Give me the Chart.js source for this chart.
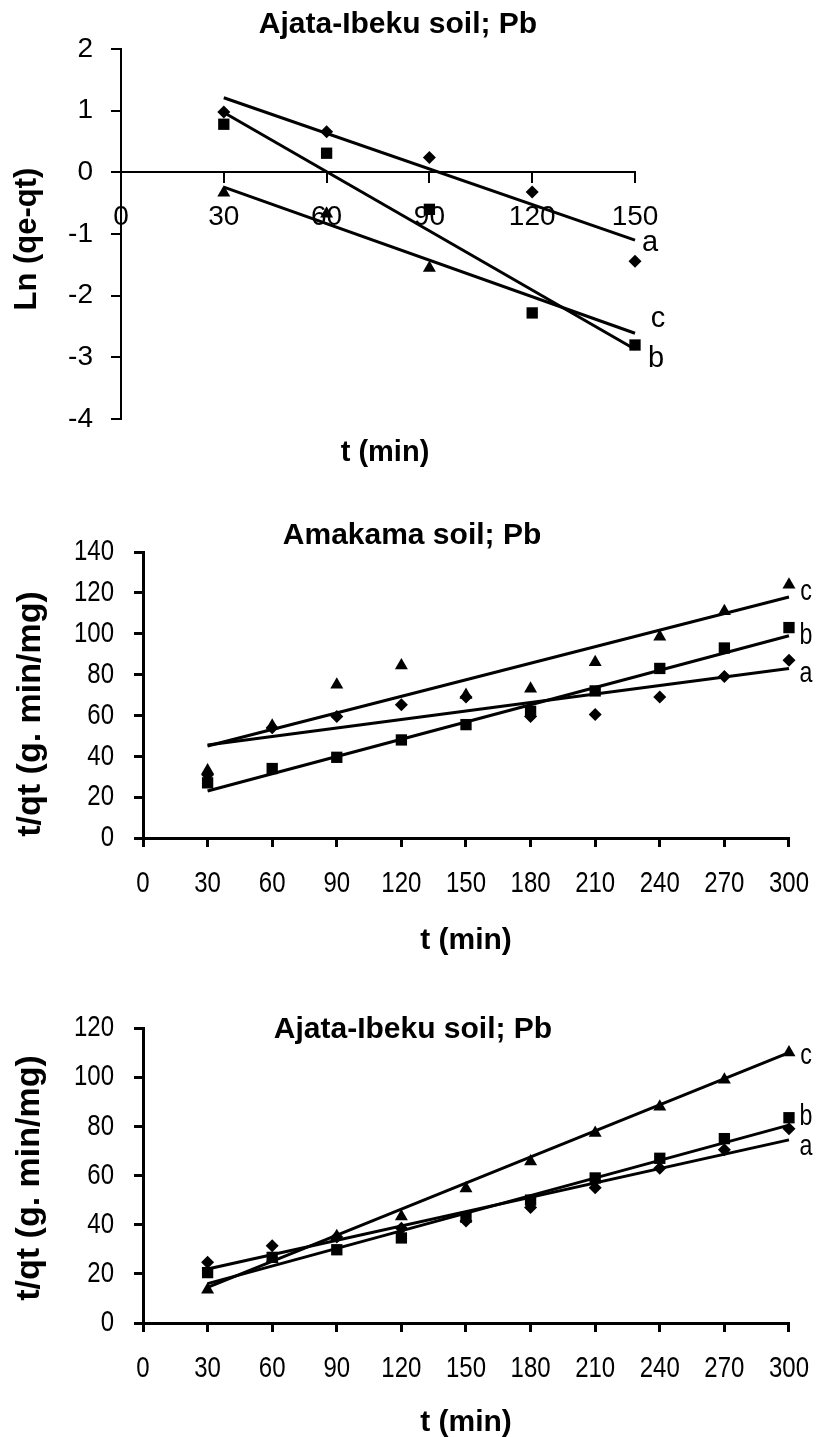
<!DOCTYPE html>
<html><head><meta charset="utf-8">
<script src="https://cdn.jsdelivr.net/npm/chart.js@4.4.1/dist/chart.umd.min.js"></script>
<style>
html,body{margin:0;padding:0;background:#fff;}
#wrap{position:relative;width:833px;height:1437px;overflow:hidden;}
canvas{position:absolute;left:0;}
</style></head><body>
<div id="wrap">
<canvas id="c1" width="833" height="480" style="top:0px"></canvas>
<canvas id="c2" width="833" height="470" style="top:500px"></canvas>
<canvas id="c3" width="833" height="447" style="top:990px"></canvas>
</div>
<script>
// ---------- data: top chart (Ajata-Ibeku soil; Pb, Ln(qe-qt)) ----------
const topTimes = [30, 60, 90, 120, 150];
const topA = [0.98, 0.66, 0.24, -0.32, -1.44];
const topB = [0.78, 0.31, -0.60, -2.28, -2.80];
const topCTimes = [30, 60, 90];
const topC = [-0.33, -0.67, -1.55];
const topFitX = [30, 150];
const topFitA = [1.21, -1.10];
const topFitB = [0.97, -2.87];
const topFitC = [-0.24, -2.61];
const topYTicks = [2, 1, 0, -1, -2, -3, -4];
const topXTicks = [0, 30, 60, 90, 120, 150];

// ---------- data: middle chart (Amakama soil; Pb, t/qt) ----------
const times = [30, 60, 90, 120, 150, 180, 210, 240, 270, 300];
const amaA = [31, 54, 59.5, 65.2, 69, 59.5, 60.5, 69, 79, 87];
const amaB = [27, 34, 39.5, 48, 55.5, 62, 72, 83, 93, 103];
const amaC = [33, 55, 75, 84.5, 70, 73, 86, 98.5, 111, 124];
const fitX = [30, 300];
const amaFitA = [45.5, 83];
const amaFitB = [23, 99];
const amaFitC = [45, 118];
const amaYTicks = [0, 20, 40, 60, 80, 100, 120, 140];

// ---------- data: bottom chart (Ajata-Ibeku soil; Pb, t/qt) ----------
const ajA = [24.7, 31.4, 35, 38.5, 41.5, 47, 55, 63, 70.5, 79];
const ajB = [20.5, 26.7, 29.8, 34.6, 43, 50, 59, 67, 75, 83.5];
const ajC = [13.5, 26, 35.3, 43.3, 54.7, 65.7, 77.3, 88, 99, 110];
const ajFitA = [22, 74.5];
const ajFitB = [16, 80.5];
const ajFitC = [14.5, 110];
const ajYTicks = [0, 20, 40, 60, 80, 100, 120];
const timeTicks = [0, 30, 60, 90, 120, 150, 180, 210, 240, 270, 300];

const seriesNames = ['a', 'b', 'c'];

// ---------- helpers ----------
const FONT = "'Liberation Sans', Arial, sans-serif";
const pts = (xs, ys) => xs.map((x, i) => ({x: x, y: ys[i]}));

function pointSet(xs, ys, style, r) {
  return {data: pts(xs, ys), showLine: false, pointStyle: style, pointRadius: r,
    pointBackgroundColor: '#000', pointBorderColor: '#000', pointBorderWidth: 0, clip: false};
}
function fitSet(xs, ys, w) {
  return {data: pts(xs, ys), showLine: true, pointRadius: 0, borderColor: '#000',
    borderWidth: w, fill: false, clip: false};
}
function fixedTicks(list) {
  return function (s) { s.ticks = list.map(v => ({value: v})); };
}
// draw the axis tick labels horizontally condensed (narrow font look)
function condense(s, factor) {
  if (s._condensed) return;
  s._condensed = true;
  const proto = Object.getPrototypeOf(s);
  s.drawLabels = function (area) {
    const ctx = this.ctx;
    const origRotate = ctx.rotate;
    ctx.rotate = function (a) { origRotate.call(this, a); this.scale(factor, 1); };
    try { proto.drawLabels.call(this, area); } finally { ctx.rotate = origRotate; }
  };
}

function makeOverlay(items) {
  return {
    id: 'overlay',
    afterDraw(chart) {
      const ctx = chart.ctx;
      items.forEach(it => {
        ctx.save();
        ctx.fillStyle = '#000';
        ctx.textBaseline = 'middle';
        ctx.font = it.font;
        ctx.textAlign = 'center';
        let x = it.x, y = it.y;
        if (it.at) {
          x = chart.scales.x.getPixelForValue(it.at[0]) + it.dx;
          y = chart.scales.y.getPixelForValue(it.at[1]) + it.dy;
        }
        ctx.translate(x, y);
        if (it.rot) ctx.rotate(it.rot);
        if (it.sx) ctx.scale(it.sx, 1);
        ctx.fillText(it.text, 0, 0);
        ctx.restore();
      });
    }
  };
}

const basePlugins = {legend: {display: false}, tooltip: {enabled: false}, title: {display: false}};

// ---------- chart 1 ----------
new Chart(document.getElementById('c1'), {
  type: 'scatter',
  data: {datasets: [
    pointSet(topTimes, topA, 'rectRot', 6.5),
    pointSet(topTimes, topB, 'rect', 8),
    pointSet(topCTimes, topC, 'triangle', 7.5),
    fitSet(topFitX, topFitA, 3),
    fitSet(topFitX, topFitB, 3),
    fitSet(topFitX, topFitC, 3)
  ]},
  options: {
    responsive: false, animation: false, devicePixelRatio: 1,
    layout: {padding: {left: 0, right: 198, top: 49, bottom: 0}},
    plugins: basePlugins,
    scales: {
      x: {type: 'linear', min: 0, max: 150, position: {y: 0},
        afterBuildTicks: fixedTicks(topXTicks),
        afterFit: s => { s.height = 0; },
        border: {display: true, color: '#000', width: 2},
        grid: {drawOnChartArea: false, drawTicks: true, tickLength: 10, color: '#000', lineWidth: 2},
        ticks: {color: '#000', padding: 18, maxRotation: 0, autoSkip: false, font: {family: FONT, size: 28}}
      },
      x2: {type: 'linear', position: 'bottom', min: 0, max: 1,
        afterFit: s => { s.height = 61; },
        border: {display: false}, grid: {display: false}, ticks: {display: false},
        title: {display: false}
      },
      y: {type: 'linear', min: -4, max: 2, position: 'left',
        afterBuildTicks: fixedTicks(topYTicks),
        afterFit: s => { s.width = 121; },
        border: {display: true, color: '#000', width: 2},
        grid: {drawOnChartArea: false, drawTicks: true, tickLength: 10, color: '#000', lineWidth: 2},
        ticks: {color: '#000', padding: 18, font: {family: FONT, size: 28}}
      }
    }
  },
  plugins: [makeOverlay([
    {text: 'Ajata-Ibeku soil; Pb', x: 398, y: 25, font: 'bold 30px ' + FONT},
    {text: 'Ln (qe-qt)', x: 27, y: 239, rot: -Math.PI / 2, font: 'bold 31px ' + FONT},
    {text: 't (min)', x: 385, y: 453, font: 'bold 29px ' + FONT},
    {text: seriesNames[0], at: [topFitX[1], topFitA[1]], dx: 15, dy: 3, font: '29px ' + FONT},
    {text: seriesNames[2], at: [topFitX[1], topFitC[1]], dx: 23, dy: -14, font: '29px ' + FONT},
    {text: seriesNames[1], at: [topFitX[1], topFitB[1]], dx: 21, dy: 10, font: '29px ' + FONT}
  ])]
});

// ---------- shared builder for t/qt charts ----------
function tqtChart(id, opts) {
  new Chart(document.getElementById(id), {
    type: 'scatter',
    data: {datasets: [
      pointSet(times, opts.a, 'rectRot', 6.5),
      pointSet(times, opts.b, 'rect', 8),
      pointSet(times, opts.c, 'triangle', 7.5),
      fitSet(fitX, opts.fa, 3),
      fitSet(fitX, opts.fb, 3),
      fitSet(fitX, opts.fc, 3)
    ]},
    options: {
      responsive: false, animation: false, devicePixelRatio: 1,
      layout: {padding: {left: 0, right: 27, top: opts.top, bottom: 0}},
      plugins: basePlugins,
      scales: {
        x: {type: 'linear', min: 0, max: 300, position: 'bottom',
          afterBuildTicks: fixedTicks(timeTicks),
          afterFit: s => { s.height = opts.xh; condense(s, 0.8); },
          border: {display: true, color: '#000', width: 3},
          grid: {drawOnChartArea: false, drawTicks: true, tickLength: 9, color: '#000', lineWidth: 3},
          ticks: {color: '#000', padding: 19, maxRotation: 0, autoSkip: false, font: {family: FONT, size: 30}},
          title: {display: true, text: 't (min)', color: '#000', padding: {top: 0, bottom: opts.tpb},
            font: {family: FONT, size: 30, weight: 'bold'}}
        },
        y: {type: 'linear', min: 0, max: opts.ymax, position: 'left',
          afterBuildTicks: fixedTicks(opts.yticks),
          afterFit: s => { s.width = 143; condense(s, 0.8); },
          border: {display: true, color: '#000', width: 3},
          grid: {drawOnChartArea: false, drawTicks: true, tickLength: 9, color: '#000', lineWidth: 3},
          ticks: {color: '#000', padding: 20, font: {family: FONT, size: 30}}
        }
      }
    },
    plugins: [makeOverlay(opts.items)]
  });
}

tqtChart('c2', {
  a: amaA, b: amaB, c: amaC, fa: amaFitA, fb: amaFitB, fc: amaFitC,
  ymax: 140, yticks: amaYTicks, top: 52, xh: 132, tpb: 11,
  items: [
    {text: 'Amakama soil; Pb', x: 412, y: 36, font: 'bold 30px ' + FONT},
    {text: 't/qt (g. min/mg)', x: 31, y: 214, rot: -Math.PI / 2, font: 'bold 34px ' + FONT},
    {text: seriesNames[2], at: [fitX[1], amaFitC[1]], dx: 17, dy: -5, sx: 0.8, font: '29px ' + FONT},
    {text: seriesNames[1], at: [fitX[1], amaFitB[1]], dx: 17, dy: 0, sx: 0.8, font: '29px ' + FONT},
    {text: seriesNames[0], at: [fitX[1], amaFitA[1]], dx: 17, dy: 6, sx: 0.8, font: '29px ' + FONT}
  ]
});

tqtChart('c3', {
  a: ajA, b: ajB, c: ajC, fa: ajFitA, fb: ajFitB, fc: ajFitC,
  ymax: 120, yticks: ajYTicks, top: 34, xh: 114, tpb: -4,
  items: [
    {text: 'Ajata-Ibeku soil; Pb', x: 413, y: 40, font: 'bold 30px ' + FONT},
    {text: 't/qt (g. min/mg)', x: 30, y: 188, rot: -Math.PI / 2, font: 'bold 34px ' + FONT},
    {text: seriesNames[2], at: [fitX[1], ajFitC[1]], dx: 17, dy: 3, sx: 0.8, font: '29px ' + FONT},
    {text: seriesNames[1], at: [fitX[1], ajFitB[1]], dx: 17, dy: -8, sx: 0.8, font: '29px ' + FONT},
    {text: seriesNames[0], at: [fitX[1], ajFitA[1]], dx: 17, dy: 7, sx: 0.8, font: '29px ' + FONT}
  ]
});
</script>
</body></html>
